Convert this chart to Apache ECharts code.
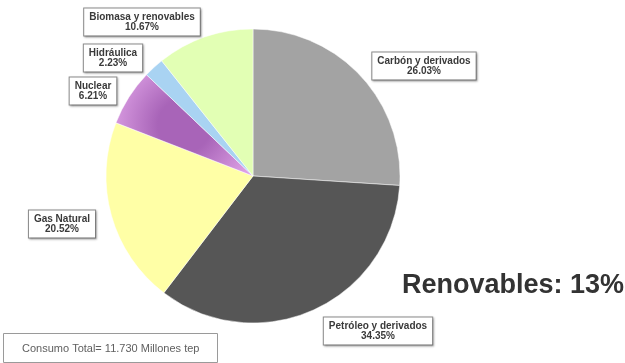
<!DOCTYPE html>
<html>
<head>
<meta charset="utf-8">
<script src="https://cdn.jsdelivr.net/npm/echarts@6/dist/echarts.min.js"></script>
<style>
  html, body { margin: 0; padding: 0; background: #fff; }
  #chart { width: 625px; height: 363px; }
</style>
</head>
<body>
<div id="chart"></div>
<script>
// Energy consumption by source (percent of total)
const sources = ['Carbón y derivados', 'Petróleo y derivados', 'Gas Natural', 'Nuclear', 'Hidráulica', 'Biomasa y renovables'];
const shares = [26.03, 34.35, 20.52, 6.21, 2.23, 10.67];
const sliceColors = ['#a3a3a3', '#565656', '#ffffa6', '#bd78cc', '#a9d3f2', '#e2ffb4'];
// label box anchor points (px)
const labelSpots = [[424, 66], [378, 331], [62, 224], [93, 91], [113, 58], [142, 22]];
const totalNote = 'Consumo Total= 11.730 Millones tep';
const renewNote = 'Renovables: 13%';

const chart = echarts.init(document.getElementById('chart'), null, { renderer: 'canvas' });

chart.setOption({
  animation: false,
  backgroundColor: '#ffffff',
  series: [{
    type: 'pie',
    center: [253, 176],
    radius: 147,
    startAngle: 90,
    clockwise: true,
    data: sources.map((name, i) => ({
      name,
      value: shares[i],
      itemStyle: {
        color: i === 3
          ? new echarts.graphic.RadialGradient(0.5, 0.5, 0.75, [
              { offset: 0.35, color: '#a864b8' },
              { offset: 1, color: '#dc9fe4' }
            ])
          : sliceColors[i]
      }
    })),
    itemStyle: { borderColor: '#ffffff', borderWidth: 0.5 },
    label: {
      show: true,
      position: 'inside',
      formatter: p => p.name + '\n' + p.value.toFixed(2) + '%',
      fontFamily: 'Liberation Sans, Arial, sans-serif',
      fontWeight: 'bold',
      fontSize: 10,
      lineHeight: 10,
      color: '#3a3a3a',
      align: 'center',
      backgroundColor: '#ffffff',
      borderColor: '#8c8c8c',
      borderWidth: 1,
      padding: [4, 5, 3, 5],
      shadowColor: 'rgba(0,0,0,0.25)',
      shadowBlur: 2,
      shadowOffsetX: 1,
      shadowOffsetY: 1
    },
    labelLine: { show: false },
    labelLayout: p => ({
      x: labelSpots[p.dataIndex][0],
      y: labelSpots[p.dataIndex][1],
      align: 'center',
      verticalAlign: 'middle'
    })
  }],
  graphic: [
    {
      type: 'rect',
      shape: { x: 3.5, y: 333.5, width: 214, height: 29 },
      style: { fill: '#ffffff', stroke: '#9a9a9a', lineWidth: 1 }
    },
    {
      type: 'text',
      x: 22, y: 349,
      style: {
        text: totalNote,
        fontFamily: 'Liberation Sans, Arial, sans-serif',
        fontSize: 11,
        fill: '#606060',
        verticalAlign: 'middle'
      }
    },
    {
      type: 'text',
      x: 402, y: 286,
      style: {
        text: renewNote,
        fontFamily: 'Liberation Sans, Arial, sans-serif',
        fontWeight: 'bold',
        fontSize: 27,
        fill: '#333333',
        verticalAlign: 'middle'
      }
    }
  ]
});
</script>
</body>
</html>
